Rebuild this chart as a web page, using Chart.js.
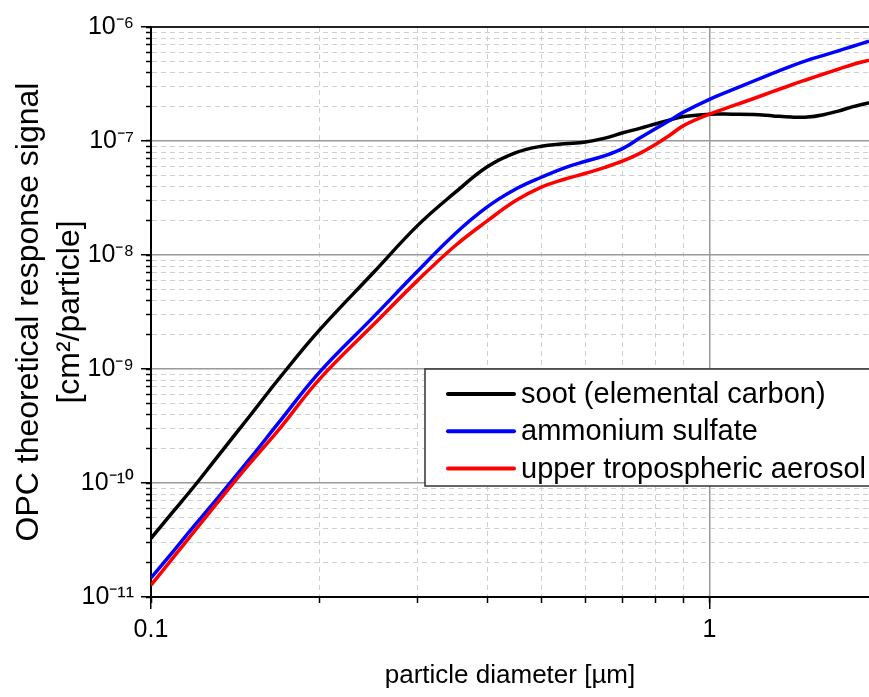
<!DOCTYPE html>
<html>
<head>
<meta charset="utf-8">
<script src="https://cdn.jsdelivr.net/npm/chart.js@4.4.1/dist/chart.umd.min.js"></script>
<style>
  html, body { margin: 0; padding: 0; background: #fff; }
</style>
</head>
<body>
<canvas id="graficoOPC" width="869" height="697"></canvas>
<script>
// dados (diâmetro em µm, sinal em cm²/partícula)
const diameters = [0.1, 0.11, 0.12, 0.13, 0.15, 0.17, 0.2, 0.25, 0.3, 0.35, 0.4, 0.45, 0.5, 0.55, 0.6, 0.65,
    0.7, 0.75, 0.8, 0.85, 0.9, 1.0, 1.1, 1.2, 1.3, 1.4, 1.5, 1.6, 1.7, 1.8, 1.93];
const soot = [3.27e-11, 5.74e-11, 9.6e-11, 1.58e-10, 3.83e-10, 8.38e-10, 2.18e-9, 6.98e-9, 1.81e-8, 3.52e-8,
    5.94e-8, 7.91e-8, 9.0e-8, 9.44e-8, 9.82e-8, 1.06e-7, 1.18e-7, 1.29e-7, 1.41e-7, 1.53e-7, 1.64e-7, 1.72e-7,
    1.72e-7, 1.71e-7, 1.66e-7, 1.62e-7, 1.62e-7, 1.70e-7, 1.83e-7, 1.99e-7, 2.17e-7];
const ammoniumSulfate = [1.47e-11, 2.57e-11, 4.31e-11, 6.87e-11, 1.61e-10, 3.47e-10, 9.3e-10, 2.85e-9, 7.2e-9,
    1.53e-8, 2.64e-8, 3.79e-8, 4.81e-8, 5.82e-8, 6.64e-8, 7.43e-8, 8.61e-8, 1.06e-7, 1.28e-7, 1.52e-7, 1.80e-7,
    2.32e-7, 2.82e-7, 3.36e-7, 3.93e-7, 4.54e-7, 5.12e-7, 5.64e-7, 6.18e-7, 6.75e-7, 7.5e-7];
const upperTropo = [1.27e-11, 2.27e-11, 3.85e-11, 6.28e-11, 1.47e-10, 3.0e-10, 8.07e-10, 2.44e-9, 5.96e-9,
    1.2e-8, 1.99e-8, 3.0e-8, 3.94e-8, 4.62e-8, 5.21e-8, 5.87e-8, 6.68e-8, 7.78e-8, 9.33e-8, 1.13e-7, 1.37e-7,
    1.72e-7, 2.03e-7, 2.36e-7, 2.72e-7, 3.10e-7, 3.48e-7, 3.87e-7, 4.26e-7, 4.67e-7, 5.12e-7];

const seriesLabels = ['soot (elemental carbon)', 'ammonium sulfate', 'upper tropospheric aerosol'];
const seriesColors = ['#000000', '#0000ff', '#ff0000'];

const xMajorTicks = [0.1, 1];
const xTickLabels = ['0.1', '1'];
const xMinorTicks = [0.2, 0.3, 0.4, 0.5, 0.6, 0.7, 0.8, 0.9];
const yDecades = [1e-11, 1e-10, 1e-9, 1e-8, 1e-7, 1e-6];
const yTickLabels = ['10⁻¹¹', '10⁻¹⁰', '10⁻⁹', '10⁻⁸', '10⁻⁷', '10⁻⁶'];

const xMin = 0.1, xMax = 1.93;
const yMin = 1e-11, yMax = 1e-6;

const fonte = "'Liberation Sans', Arial, sans-serif";
Chart.defaults.font.family = fonte;
Chart.defaults.color = '#000';

// ticks menores do eixo y: 2..9 em cada década
const yMinorTicks = [];
yDecades.slice(0, -1).forEach(d => {
    for (let k = 2; k <= 9; k++) yMinorTicks.push(d * k);
});

const naLista = (v, lista) => lista.some(m => Math.abs(v / m - 1) < 1e-6);
const semCor = 'rgba(0,0,0,0)';

const pontos = (serie) => diameters.map((d, i) => ({ x: d, y: serie[i] }));

// legenda desenhada dentro da área do gráfico
const legendaInterna = {
    id: 'legendaInterna',
    afterDraw(chart) {
        const { ctx, chartArea } = chart;
        const left = chartArea.left + 274;
        const top = chartArea.top + 342;
        const largura = chartArea.right - left + 10;
        const altura = 117;
        ctx.save();
        ctx.fillStyle = '#fff';
        ctx.fillRect(left, top, largura, altura);
        ctx.strokeStyle = '#333';
        ctx.lineWidth = 1.5;
        ctx.strokeRect(left, top, largura, altura);
        ctx.font = '29px ' + fonte;
        ctx.textBaseline = 'middle';
        ctx.textAlign = 'left';
        chart.data.datasets.forEach((ds, i) => {
            const y = top + 25 + i * 37.3;
            ctx.strokeStyle = ds.borderColor;
            ctx.lineWidth = 4;
            ctx.lineCap = 'round';
            ctx.beginPath();
            ctx.moveTo(left + 23, y);
            ctx.lineTo(left + 89, y);
            ctx.stroke();
            ctx.fillStyle = '#000';
            ctx.fillText(ds.label, left + 96, y + 1);
        });
        ctx.restore();
    }
};

new Chart(document.getElementById('graficoOPC'), {
    type: 'line',
    data: {
        datasets: [
            {
                label: seriesLabels[0],
                data: pontos(soot),
                borderColor: seriesColors[0],
                borderWidth: 3.5,
                pointRadius: 0,
                tension: 0.4,
                order: 2,
                xAxisID: 'x',
                yAxisID: 'y'
            },
            {
                label: seriesLabels[1],
                data: pontos(ammoniumSulfate),
                borderColor: seriesColors[1],
                borderWidth: 3.5,
                pointRadius: 0,
                tension: 0.4,
                order: 1,
                xAxisID: 'x',
                yAxisID: 'y'
            },
            {
                label: seriesLabels[2],
                data: pontos(upperTropo),
                borderColor: seriesColors[2],
                borderWidth: 3.5,
                pointRadius: 0,
                tension: 0.4,
                order: 0,
                xAxisID: 'x',
                yAxisID: 'y'
            }
        ]
    },
    options: {
        responsive: false,
        animation: false,
        devicePixelRatio: 1,
        layout: { padding: { top: 24, left: 0, right: 0, bottom: 0 } },
        plugins: {
            legend: { display: false },
            tooltip: { enabled: false }
        },
        scales: {
            x: {
                type: 'logarithmic',
                position: 'bottom',
                weight: 1,
                min: xMin,
                max: xMax,
                afterBuildTicks: (s) => { s.ticks = xMajorTicks.concat(xMinorTicks).sort((a, b) => a - b).map(v => ({ value: v })); },
                afterFit: (s) => { s.height = 100; },
                ticks: {
                    autoSkip: false,
                    maxRotation: 0,
                    padding: 12,
                    color: '#000',
                    font: { size: 25 },
                    callback: (v) => {
                        const i = xMajorTicks.findIndex(m => Math.abs(v / m - 1) < 1e-6);
                        return i >= 0 ? xTickLabels[i] : '';
                    }
                },
                grid: {
                    color: (c) => (c.tick && naLista(c.tick.value, xMajorTicks)) ? semCor : '#d0d0d0',
                    lineWidth: 1,
                    tickColor: '#000',
                    tickWidth: 1.5,
                    tickLength: 6,
                    tickBorderDash: []
                },
                border: { display: true, color: '#000', width: 2, dash: [5, 4] },
                title: {
                    display: true,
                    text: 'particle diameter [µm]',
                    color: '#000',
                    font: { size: 26 },
                    padding: { top: 0, bottom: 6 }
                }
            },
            // linhas principais (sólidas) do eixo x
            x2: {
                type: 'logarithmic',
                position: 'bottom',
                weight: 0,
                min: xMin,
                max: xMax,
                afterBuildTicks: (s) => { s.ticks = xMajorTicks.map(v => ({ value: v })); },
                afterFit: (s) => { s.height = 0; },
                ticks: { display: false },
                grid: {
                    color: (c) => (c.tick && c.tick.value === xMin) ? semCor : '#9a9a9a',
                    lineWidth: 1.5,
                    tickColor: '#000',
                    tickWidth: 1.5,
                    tickLength: 12
                },
                border: { display: false }
            },
            // moldura superior
            xTop: {
                type: 'logarithmic',
                position: 'top',
                min: xMin,
                max: xMax,
                afterFit: (s) => { s.height = 0; },
                ticks: { display: false },
                grid: { display: false },
                border: { display: true, color: '#222', width: 2 }
            },
            y: {
                type: 'logarithmic',
                position: 'left',
                weight: 1,
                min: yMin,
                max: yMax,
                afterBuildTicks: (s) => { s.ticks = yDecades.concat(yMinorTicks).sort((a, b) => a - b).map(v => ({ value: v })); },
                afterFit: (s) => { s.width = 151; },
                ticks: {
                    autoSkip: false,
                    padding: 12,
                    color: '#000',
                    font: { size: 25 },
                    callback: (v) => {
                        const i = yDecades.findIndex(m => Math.abs(v / m - 1) < 1e-6);
                        return i >= 0 ? yTickLabels[i] : '';
                    }
                },
                grid: {
                    color: (c) => (c.tick && naLista(c.tick.value, yDecades)) ? semCor : '#d0d0d0',
                    lineWidth: 1,
                    tickColor: '#000',
                    tickWidth: 1.5,
                    tickLength: 5,
                    tickBorderDash: []
                },
                border: { display: true, color: '#000', width: 2, dash: [5, 4] },
                title: {
                    display: true,
                    text: ['OPC theoretical response signal', '[cm²/particle]'],
                    color: '#000',
                    font: { size: 32, lineHeight: 1.3 },
                    padding: { top: 8, bottom: 0 }
                }
            },
            // linhas principais (sólidas) do eixo y
            y2: {
                type: 'logarithmic',
                position: 'left',
                weight: 0,
                min: yMin,
                max: yMax,
                afterBuildTicks: (s) => { s.ticks = yDecades.map(v => ({ value: v })); },
                afterFit: (s) => { s.width = 0; },
                ticks: { display: false },
                grid: {
                    color: (c) => (c.tick && (c.tick.value === yMin || c.tick.value === yMax)) ? semCor : '#9a9a9a',
                    lineWidth: 1.5,
                    tickColor: '#000',
                    tickWidth: 1.5,
                    tickLength: 10
                },
                border: { display: false }
            }
        }
    },
    plugins: [legendaInterna]
});
</script>
</body>
</html>
